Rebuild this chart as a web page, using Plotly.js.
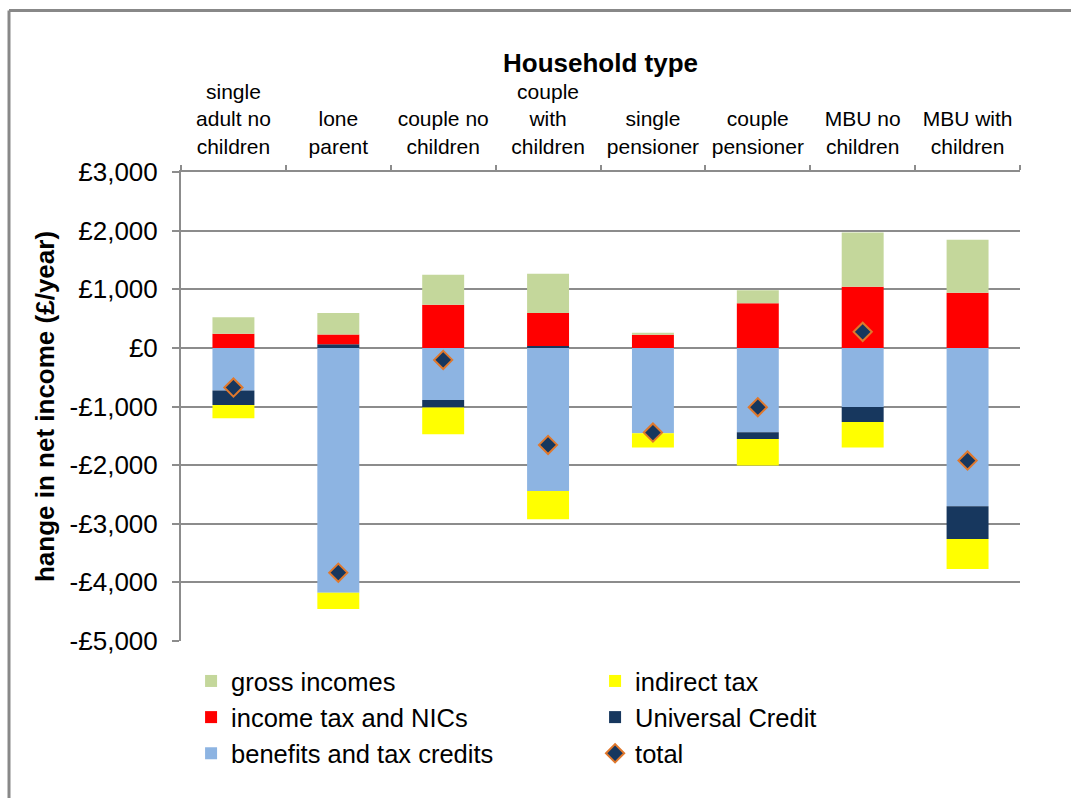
<!DOCTYPE html>
<html>
<head>
<meta charset="utf-8">
<script src="https://cdn.plot.ly/plotly-3.0.1.min.js"></script>
<style>
  html, body { margin: 0; padding: 0; background: #fff; }
  #chart { width: 1071px; height: 798px; }
</style>
</head>
<body>
<div id="chart"></div>
<script>
const categories = [
  "single<br>adult no<br>children",
  "lone<br>parent",
  "couple no<br>children",
  "couple<br>with<br>children",
  "single<br>pensioner",
  "couple<br>pensioner",
  "MBU no<br>children",
  "MBU with<br>children"
];
const grossIncomes   = [285, 370, 512, 666, 34, 222, 927, 904];
const incomeTaxNICs  = [239, 164, 734, 563, 222, 762, 1041, 939];
const benefitsCredits = [-728, -4176, -887, -2440, -1456, -1439, -1007, -2702];
const universalCredit = [-245, 63, -131, 34, 0, -114, -256, -557];
const indirectTax    = [-227, -278, -455, -483, -245, -455, -438, -512];
const total          = [-677, -3834, -205, -1655, -1445, -1012, 273, -1923];

const yTickVals = [3000, 2000, 1000, 0, -1000, -2000, -3000, -4000, -5000];
const yTickText = ["£3,000", "£2,000", "£1,000", "£0", "-£1,000", "-£2,000", "-£3,000", "-£4,000", "-£5,000"];

const FONT = "Liberation Sans, Arial, sans-serif";

function barTrace(name, y, color, rank) {
  return {
    type: "bar", name: name, x: categories, y: y,
    marker: { color: color, line: { width: 0 } },
    legendrank: rank, hoverinfo: "name+y"
  };
}

const data = [
  barTrace("benefits and tax credits", benefitsCredits, "#8DB4E2", 5),
  barTrace("Universal Credit", universalCredit, "#17375E", 4),
  barTrace("income tax and NICs", incomeTaxNICs, "#FF0000", 3),
  barTrace("indirect tax", indirectTax, "#FFFF00", 2),
  barTrace("gross incomes", grossIncomes, "#C4D79B", 1),
  {
    type: "scatter", mode: "markers", name: "total", x: categories, y: total,
    marker: { symbol: "diamond", size: 14, color: "#17375E", line: { color: "#E0782C", width: 2 } },
    legendrank: 6
  }
];

const layout = {
  width: 1071, height: 798,
  margin: { l: 181, r: 51, t: 172, b: 157, pad: 0 },
  paper_bgcolor: "#ffffff", plot_bgcolor: "#ffffff",
  font: { family: FONT, size: 26, color: "#000" },
  barmode: "relative",
  bargap: 0.6,
  showlegend: true,
  legend: {
    orientation: "h",
    x: 0.012, xanchor: "left",
    y: -0.036, yanchor: "top",
    entrywidth: 359, entrywidthmode: "pixels",
    traceorder: "normal",
    font: { family: FONT, size: 25.5, color: "#000" },
    itemwidth: 30,
    tracegroupgap: 0,
    bgcolor: "rgba(0,0,0,0)"
  },
  xaxis: {
    type: "category",
    side: "top",
    showline: true, linecolor: "#8c8c8c", linewidth: 2,
    ticks: "outside", tickson: "boundaries", ticklen: 5, tickcolor: "#8c8c8c", tickwidth: 2,
    showgrid: false,
    tickfont: { family: FONT, size: 21, color: "#000" },
    tickangle: 0,
    ticklabelstandoff: 8,
    automargin: false,
    title: { text: "<b>Household type</b>", font: { family: FONT, size: 26, color: "#000" }, standoff: 0 }
  },
  yaxis: {
    range: [-5000, 3000],
    tickvals: yTickVals, ticktext: yTickText,
    showline: true, linecolor: "#8c8c8c", linewidth: 2,
    ticks: "outside", ticklen: 7, tickcolor: "#8c8c8c", tickwidth: 2,
    showgrid: true, gridcolor: "#8c8c8c", gridwidth: 2,
    zeroline: true, zerolinecolor: "#8c8c8c", zerolinewidth: 2,
    tickfont: { family: FONT, size: 26, color: "#000" },
    ticklabelstandoff: 9,
    automargin: false,
    title: { text: "<b>hange in net income (£/year)</b>", font: { family: FONT, size: 26, color: "#000" }, standoff: 8 }
  },
  shapes: [
    { type: "line", xref: "paper", yref: "paper", x0: -0.205, x1: 1.08, y0: 1.3443, y1: 1.3443, line: { color: "#888888", width: 3 } },
    { type: "line", xref: "paper", yref: "paper", x0: -0.205, x1: -0.205, y0: 1.3443, y1: -0.4, line: { color: "#888888", width: 3 } }
  ]
};

Plotly.newPlot("chart", data, layout, { displayModeBar: false, staticPlot: true });
</script>
</body>
</html>
